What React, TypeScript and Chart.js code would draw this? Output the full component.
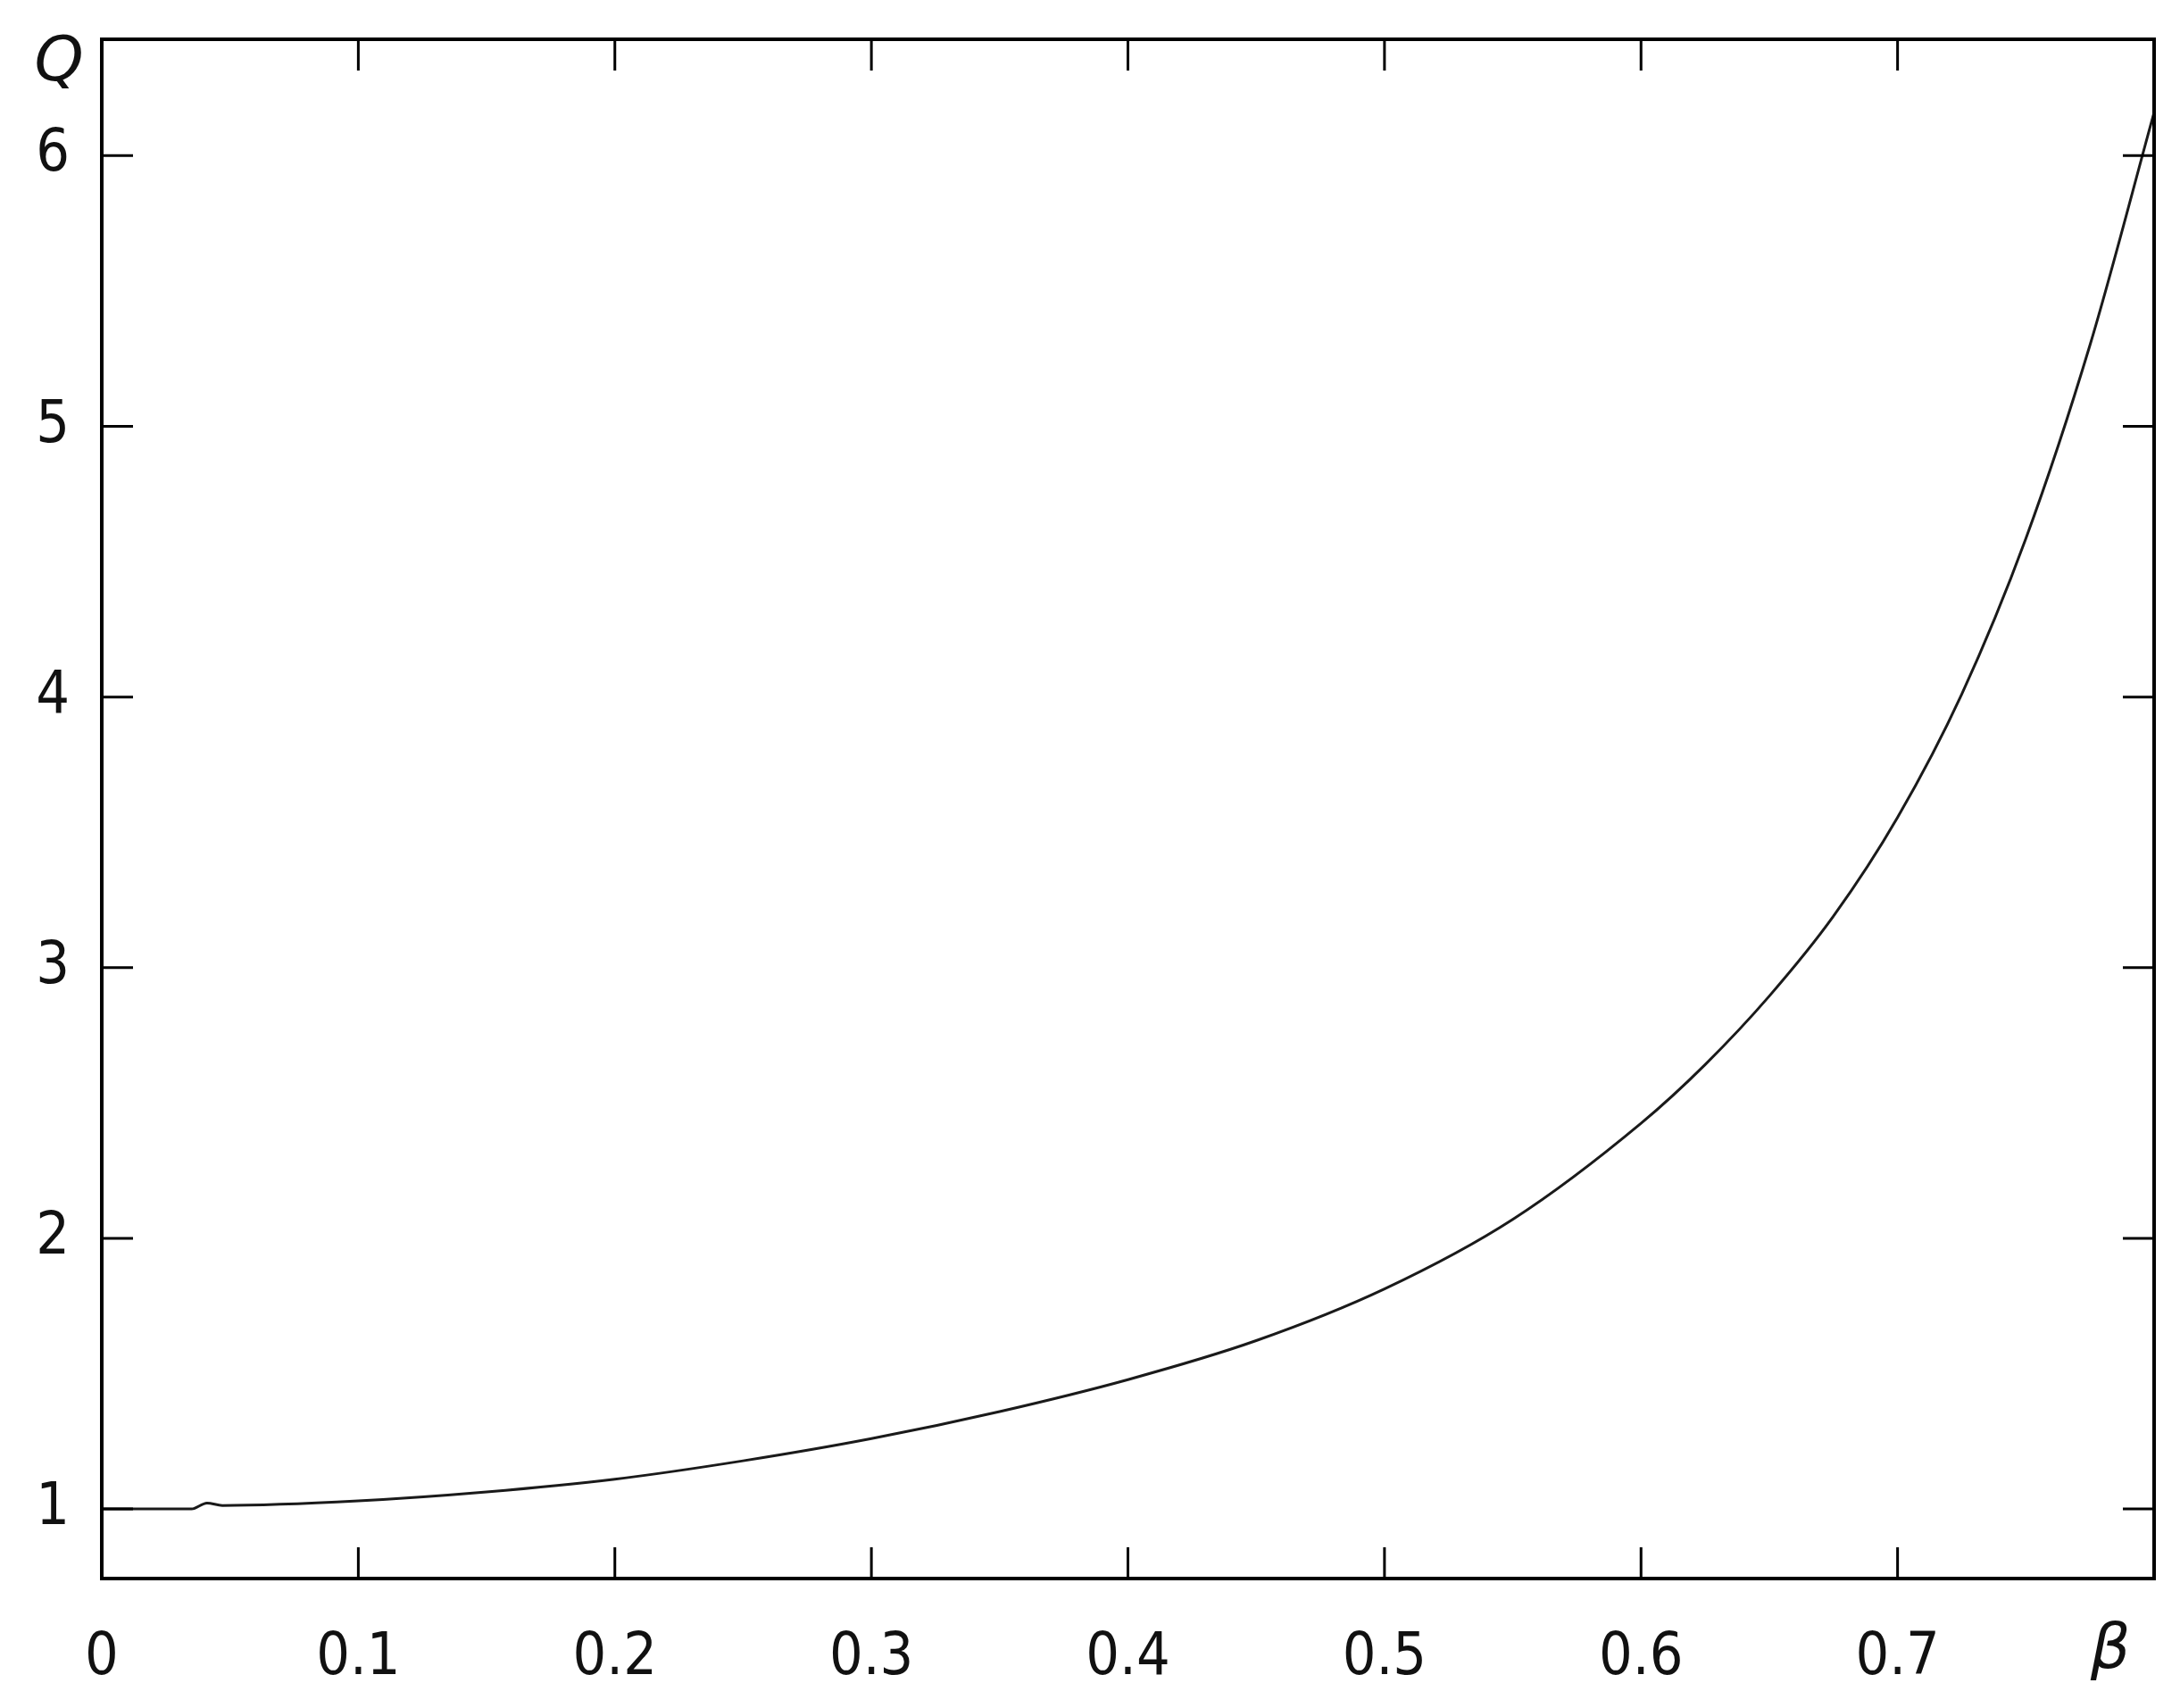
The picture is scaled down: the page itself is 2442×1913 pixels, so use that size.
import React, { useEffect, useRef } from 'react';
import { Chart, registerables } from 'chart.js';

Chart.register(...registerables);

const betaValues = [0, 0.035, 0.041, 0.047, 0.1, 0.15, 0.2, 0.25, 0.3, 0.35, 0.4, 0.45, 0.5, 0.55, 0.6, 0.625, 0.65, 0.675, 0.7, 0.725, 0.75, 0.775, 0.8];
const qValues = [1, 1, 1.022, 1.013, 1.03, 1.063, 1.11, 1.178, 1.26, 1.36, 1.478, 1.622, 1.813, 2.07, 2.425, 2.642, 2.895, 3.19, 3.555, 4.01, 4.585, 5.3, 6.16];
const xTickValues = [0, 0.1, 0.2, 0.3, 0.4, 0.5, 0.6, 0.7];
const yTickValues = [1, 2, 3, 4, 5, 6];
const xAxisLabel = 'β';
const yAxisLabel = 'Q';

const W = 2442;
const H = 1913;
const LABEL_FONT = "'DejaVu Sans Condensed', 'DejaVu Sans', sans-serif";

const framePlugin = {
  id: 'frame',
  afterDatasetsDraw(chart: any) {
    const { ctx, chartArea, scales } = chart;
    const { left, right, top, bottom } = chartArea;
    const x = scales.x;
    const y = scales.y;
    const tl = 35;
    ctx.save();
    ctx.strokeStyle = '#000';
    ctx.lineWidth = 3;
    ctx.beginPath();
    xTickValues.forEach((v) => {
      if (v <= 0) return;
      const px = x.getPixelForValue(v);
      ctx.moveTo(px, bottom);
      ctx.lineTo(px, bottom - tl);
      ctx.moveTo(px, top);
      ctx.lineTo(px, top + tl);
    });
    yTickValues.forEach((v) => {
      const py = y.getPixelForValue(v);
      ctx.moveTo(left, py);
      ctx.lineTo(left + tl, py);
      ctx.moveTo(right, py);
      ctx.lineTo(right - tl, py);
    });
    ctx.stroke();
    ctx.lineWidth = 4;
    ctx.strokeRect(left, top, right - left, bottom - top);
    ctx.fillStyle = '#111';
    ctx.font = `italic 70px 'DejaVu Sans', sans-serif`;
    ctx.textAlign = 'center';
    ctx.textBaseline = 'middle';
    ctx.fillText(yAxisLabel, 66, 72);
    ctx.fillText(xAxisLabel, 2364, 1850);
    ctx.restore();
  },
};

export default function App() {
  const ref = useRef<HTMLCanvasElement | null>(null);
  useEffect(() => {
    if (!ref.current) return;
    const chart = new Chart(ref.current, {
      type: 'line',
      data: {
        datasets: [
          {
            data: betaValues.map((b, i) => ({ x: b, y: qValues[i] })),
            borderColor: '#1a1a1a',
            borderWidth: 3,
            pointRadius: 0,
            fill: false,
            cubicInterpolationMode: 'monotone',
          },
        ],
      },
      options: {
        animation: false,
        responsive: false,
        devicePixelRatio: 1,
        layout: { padding: { left: 0, right: W - 2413, top: 44, bottom: 0 } },
        plugins: { legend: { display: false }, tooltip: { enabled: false } },
        scales: {
          x: {
            type: 'linear',
            min: 0,
            max: 0.8,
            grid: { display: false, drawTicks: false },
            border: { display: false },
            afterFit: (s: any) => { s.height = H - 1768; s.paddingLeft = 0; s.paddingRight = 0; },
            afterBuildTicks: (s: any) => { s.ticks = xTickValues.map((v) => ({ value: v })); },
            ticks: {
              autoSkip: false,
              maxRotation: 0,
              padding: 50,
              color: '#111',
              font: { family: LABEL_FONT, size: 66 },
              callback: (v: any) => (Number(v) === 0 ? '0' : Number(v).toFixed(1)),
            },
          },
          y: {
            type: 'linear',
            min: 0.743,
            max: 6.43,
            grid: { display: false, drawTicks: false },
            border: { display: false },
            afterFit: (s: any) => { s.width = 114; s.paddingTop = 0; s.paddingBottom = 0; },
            afterBuildTicks: (s: any) => { s.ticks = yTickValues.map((v) => ({ value: v })); },
            ticks: {
              padding: 36,
              color: '#111',
              font: { family: LABEL_FONT, size: 66 },
              callback: (v: any) => String(v),
            },
          },
        },
      },
      plugins: [framePlugin],
    } as any);
    return () => chart.destroy();
  }, []);
  return (
    <div style={{ position: 'absolute', left: 0, top: 0, width: W, height: H, background: '#fff' }}>
      <canvas ref={ref} width={W} height={H} style={{ width: W, height: H, display: 'block' }} />
    </div>
  );
}
